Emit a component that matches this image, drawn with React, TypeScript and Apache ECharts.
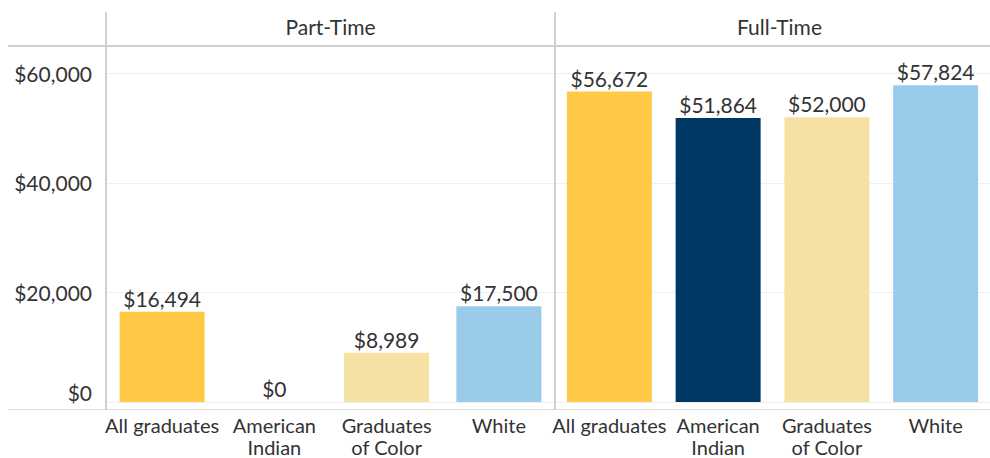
import React, { useEffect, useRef } from "react";
import * as echarts from "echarts";

const panels = ["Part-Time", "Full-Time"];
const categories = ["All graduates", "American\nIndian", "Graduates\nof Color", "White"];
const partTime = [16494, 0, 8989, 17500];
const fullTime = [56672, 51864, 52000, 57824];
const barColors = ["#FFC845", "#003865", "#F5E1A4", "#9BCBEB"];
const yTicks = [0, 20000, 40000, 60000];

const FONT = "Lato, 'Open Sans', sans-serif";
const TXT = "#333333";
const LINE = "#d0d0d0";

const fmt = (v: number) => "$" + v.toLocaleString("en-US");

export default function App() {
  const ref = useRef<HTMLDivElement>(null);
  useEffect(() => {
    if (!ref.current) return;
    const chart = echarts.init(ref.current, undefined, { renderer: "svg" });
    const top = 46;
    const bottom = 49;
    const grids = [
      { left: 106, width: 449, top, bottom },
      { left: 555, width: 449, top, bottom },
    ];
    const yAxisBase = (i: number) => ({
      type: "value",
      gridIndex: i,
      min: 0,
      max: 65000,
      interval: 20000,
      axisLine: { show: false },
      axisTick: { show: false },
      splitLine: { show: true, lineStyle: { color: "#efefef", width: 1 } },
      axisLabel: {
        show: i === 0,
        margin: 14,
        fontSize: 21,
        fontFamily: FONT,
        color: TXT,
        formatter: (v: number) => {
          if (!yTicks.includes(v)) return "";
          if (v === 0) return "{z|" + fmt(v) + "}";
          return fmt(v);
        },
        rich: {
          z: { fontSize: 21, fontFamily: FONT, color: TXT, padding: [0, 0, 20, 0] },
        },
      },
    });
    const xAxisBase = (i: number) => ({
      type: "category",
      gridIndex: i,
      data: categories,
      axisLine: { show: false },
      axisTick: { show: false },
      axisLabel: {
        interval: 0,
        margin: 12,
        fontSize: 20,
        lineHeight: 22,
        fontFamily: FONT,
        color: TXT,
      },
    });
    const seriesBase = (i: number, data: number[]) => ({
      type: "bar",
      xAxisIndex: i,
      yAxisIndex: i,
      barWidth: 85,
      data: data.map((v, k) => ({ value: v, itemStyle: { color: barColors[k] } })),
      label: {
        show: true,
        position: "top",
        distance: 3,
        fontSize: 21,
        fontFamily: FONT,
        color: TXT,
        formatter: (p: any) => fmt(p.value),
      },
    });
    chart.setOption({
      animation: false,
      backgroundColor: "#ffffff",
      grid: grids,
      xAxis: [xAxisBase(0), xAxisBase(1)],
      yAxis: [yAxisBase(0), yAxisBase(1)],
      series: [seriesBase(0, partTime), seriesBase(1, fullTime)],
      graphic: [
        {
          type: "line",
          shape: { x1: 8, y1: 46, x2: 990, y2: 46 },
          style: { stroke: LINE, lineWidth: 2 },
          z: 10,
        },
        {
          type: "line",
          shape: { x1: 8, y1: 409.5, x2: 990, y2: 409.5 },
          style: { stroke: "#dcdcdc", lineWidth: 1 },
          z: 10,
        },
        {
          type: "line",
          shape: { x1: 106, y1: 12, x2: 106, y2: 410 },
          style: { stroke: LINE, lineWidth: 2 },
          z: 10,
        },
        {
          type: "line",
          shape: { x1: 555, y1: 12, x2: 555, y2: 410 },
          style: { stroke: LINE, lineWidth: 2 },
          z: 10,
        },
        {
          type: "text",
          x: 106 + 449 / 2,
          y: 26,
          style: {
            text: panels[0],
            fontSize: 21,
            fontFamily: FONT,
            fill: TXT,
            textAlign: "center",
            textVerticalAlign: "middle",
          },
        },
        {
          type: "text",
          x: 555 + 449 / 2,
          y: 26,
          style: {
            text: panels[1],
            fontSize: 21,
            fontFamily: FONT,
            fill: TXT,
            textAlign: "center",
            textVerticalAlign: "middle",
          },
        },
      ],
    });
    return () => chart.dispose();
  }, []);
  return (
    <div
      ref={ref}
      style={{ position: "absolute", left: 0, top: 0, width: 990, height: 458, overflow: "hidden" }}
    />
  );
}
